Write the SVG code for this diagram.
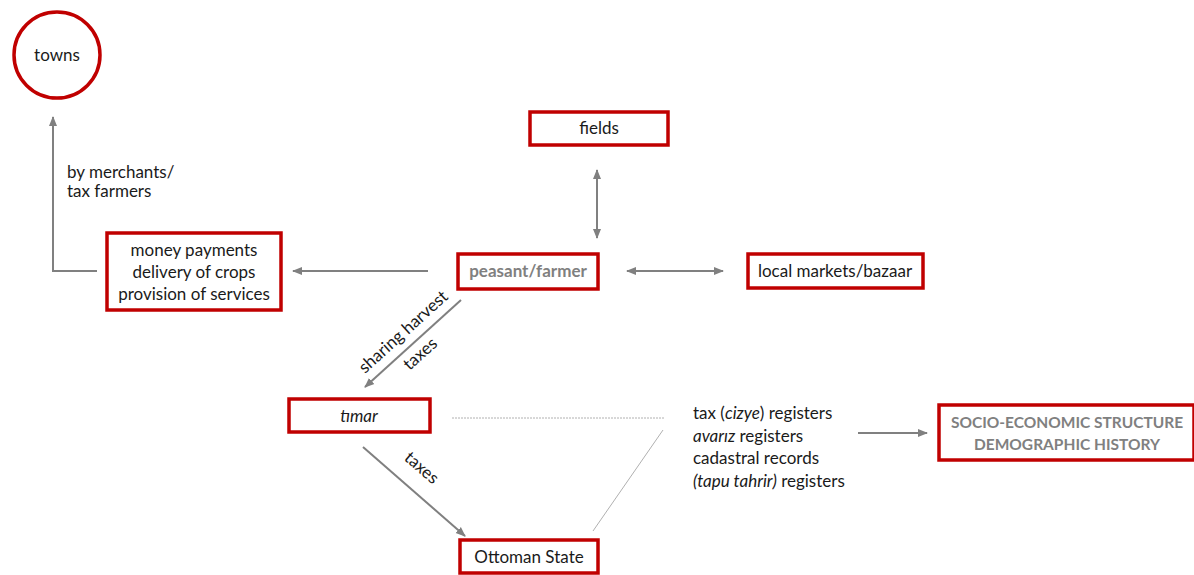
<svg xmlns="http://www.w3.org/2000/svg" width="1194" height="575" viewBox="0 0 1194 575">
<style>
.box{fill:#fff;stroke:#c00000;stroke-width:3.5}
.t{font-family:Lato,"Open Sans",sans-serif;font-size:17px;fill:#1a1a1a}
.g{fill:#808080;font-weight:bold}
.s{font-size:15.5px}
.c{stroke:#808080;stroke-width:2;fill:none}
.thin{stroke:#b0b0b0;stroke-width:1;fill:none}
</style>
<defs>
<marker id="ah" viewBox="0 0 10 10" refX="9" refY="5" markerWidth="5" markerHeight="5" orient="auto-start-reverse">
<path d="M0,1 L10,5 L0,9 z" fill="#808080"/>
</marker>
</defs>
<rect width="1194" height="575" fill="#fff"/>
<g id="connectors">
<line class="c" x1="597" y1="170" x2="597" y2="238" marker-start="url(#ah)" marker-end="url(#ah)"/>
<line class="c" x1="627" y1="271" x2="723" y2="271" marker-start="url(#ah)" marker-end="url(#ah)"/>
<line class="c" x1="428" y1="271" x2="293" y2="271" marker-end="url(#ah)"/>
<polyline class="c" points="97,271 53,271 53,117" marker-end="url(#ah)"/>
<line class="c" x1="461" y1="300" x2="365" y2="387" marker-end="url(#ah)"/>
<line class="c" x1="363" y1="447" x2="465" y2="536" marker-end="url(#ah)"/>
<line class="thin" x1="452" y1="418" x2="665" y2="418" stroke-dasharray="2,1"/>
<line class="thin" x1="593" y1="531" x2="663" y2="430"/>
<line class="c" x1="858" y1="433" x2="927" y2="433" marker-end="url(#ah)"/>
<text class="t" x="67" y="178">by merchants/</text>
<text class="t" x="67" y="197">tax farmers</text>
<text class="t" text-anchor="middle" transform="translate(407,336) rotate(-42)">sharing harvest</text>
<text class="t" text-anchor="middle" transform="translate(424,358) rotate(-42)">taxes</text>
<text class="t" text-anchor="middle" transform="translate(418,472) rotate(41)">taxes</text>
</g>
<g id="towns">
<circle cx="57" cy="55" r="43" fill="#fff" stroke="#c00000" stroke-width="3.5"/>
<text class="t" x="57" y="61" text-anchor="middle">towns</text>
</g>
<g id="fields">
<rect class="box" x="530" y="112" width="138" height="33"/>
<text class="t" x="599" y="134" text-anchor="middle">fields</text>
</g>
<g id="peasant">
<rect class="box" x="458" y="254" width="140" height="35"/>
<text class="t g" x="528" y="277" text-anchor="middle">peasant/farmer</text>
</g>
<g id="markets">
<rect class="box" x="748" y="254" width="175" height="34"/>
<text class="t" x="835" y="277" text-anchor="middle">local markets/bazaar</text>
</g>
<g id="payments">
<rect class="box" x="107" y="233" width="174" height="77"/>
<text class="t" x="194" y="256" text-anchor="middle">money payments</text>
<text class="t" x="194" y="278" text-anchor="middle">delivery of crops</text>
<text class="t" x="194" y="300" text-anchor="middle">provision of services</text>
</g>
<g id="timar">
<rect class="box" x="289" y="399" width="141" height="33"/>
<text class="t" x="359" y="422" text-anchor="middle" font-style="italic">tımar</text>
</g>
<g id="ottoman">
<rect class="box" x="460" y="540" width="138" height="33"/>
<text class="t" x="529" y="563" text-anchor="middle">Ottoman State</text>
</g>
<g id="records">
<text class="t" x="693" y="419">tax (<tspan font-style="italic">cizye</tspan>) registers</text>
<text class="t" x="693" y="442"><tspan font-style="italic">avarız</tspan> registers</text>
<text class="t" x="693" y="464">cadastral records</text>
<text class="t" x="693" y="487"><tspan font-style="italic">(tapu tahrir)</tspan> registers</text>
</g>
<g id="socio">
<rect class="box" x="939" y="405" width="255" height="55"/>
<text class="t g s" x="1067" y="428" text-anchor="middle">SOCIO-ECONOMIC STRUCTURE</text>
<text class="t g s" x="1067" y="450" text-anchor="middle">DEMOGRAPHIC HISTORY</text>
</g>
</svg>
